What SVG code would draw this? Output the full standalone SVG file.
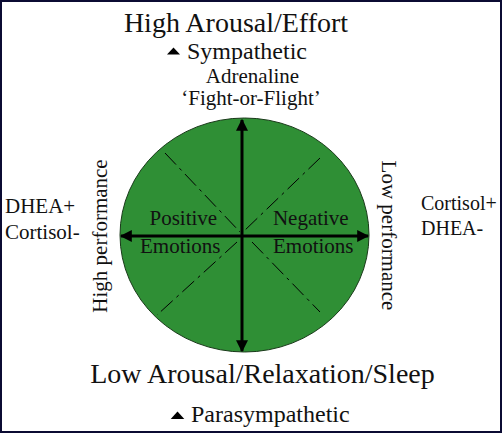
<svg xmlns="http://www.w3.org/2000/svg" width="502" height="433" viewBox="0 0 502 433">
<style>
text{font-family:"Liberation Serif","Times New Roman",serif;fill:#111;}
.big{font-size:28px;}
.mid{font-size:24px;}
.sm{font-size:21px;}
.sm2{font-size:20px;}
.axis{stroke:#000;stroke-width:3;fill:none;}
.diag{stroke:#000;stroke-width:1;stroke-dasharray:16 5 3 5;fill:none;}
</style>
<defs>
<marker id="ah" viewBox="0 0 10 10" refX="9" refY="5" markerWidth="4" markerHeight="4" orient="auto-start-reverse" markerUnits="strokeWidth">
<path d="M0,0 L10,5 L0,10 z" fill="#000"/>
</marker>
</defs>
<rect x="1" y="1" width="500" height="431" fill="#fff" stroke="#0b0b33" stroke-width="2"/>
<g id="circle">
<ellipse cx="244.5" cy="235" rx="124.5" ry="117" fill="#2f8f35" stroke="#1a3a1a" stroke-width="1"/>
</g>
<g id="connectors">
<line class="diag" x1="165" y1="153" x2="240" y2="232"/>
<line class="diag" x1="320" y1="158" x2="243" y2="232"/>
<line class="diag" x1="237" y1="242" x2="157" y2="315"/>
<line class="diag" x1="252" y1="242" x2="320" y2="312"/>
<line class="axis" x1="242" y1="120" x2="242" y2="351" marker-start="url(#ah)" marker-end="url(#ah)"/>
<line class="axis" x1="121" y1="236" x2="368" y2="236" marker-start="url(#ah)" marker-end="url(#ah)"/>
</g>
<g id="top">
<text class="big" x="236" y="32" text-anchor="middle">High Arousal/Effort</text>
<polygon points="167,54.5 180,54.5 173.5,47.5" fill="#000"/>
<text class="mid" x="187" y="59">Sympathetic</text>
<text class="sm" x="252.5" y="83" text-anchor="middle">Adrenaline</text>
<text class="sm" x="251" y="105" text-anchor="middle">‘Fight-or-Flight’</text>
</g>
<g id="positive">
<text class="sm" x="183.3" y="225" text-anchor="middle">Positive</text>
<text class="sm" x="180.3" y="253" text-anchor="middle">Emotions</text>
</g>
<g id="negative">
<text class="sm" x="310.8" y="225" text-anchor="middle">Negative</text>
<text class="sm" x="313.3" y="253" text-anchor="middle">Emotions</text>
</g>
<g id="left">
<text class="sm" x="5" y="213">DHEA+</text>
<text class="sm" x="5" y="239">Cortisol-</text>
<text class="sm" transform="translate(107,236) rotate(-90)" text-anchor="middle">High performance</text>
</g>
<g id="right">
<text class="sm" transform="translate(382,235.5) rotate(90)" text-anchor="middle">Low performance</text>
<text class="sm2" x="421" y="210">Cortisol+</text>
<text class="sm2" x="421" y="235">DHEA-</text>
</g>
<g id="bottom">
<text class="big" x="262.5" y="383" text-anchor="middle">Low Arousal/Relaxation/Sleep</text>
<polygon points="170.7,419 184.3,419 177.5,411.5" fill="#000"/>
<text class="mid" x="191" y="421.5">Parasympathetic</text>
</g>
</svg>
